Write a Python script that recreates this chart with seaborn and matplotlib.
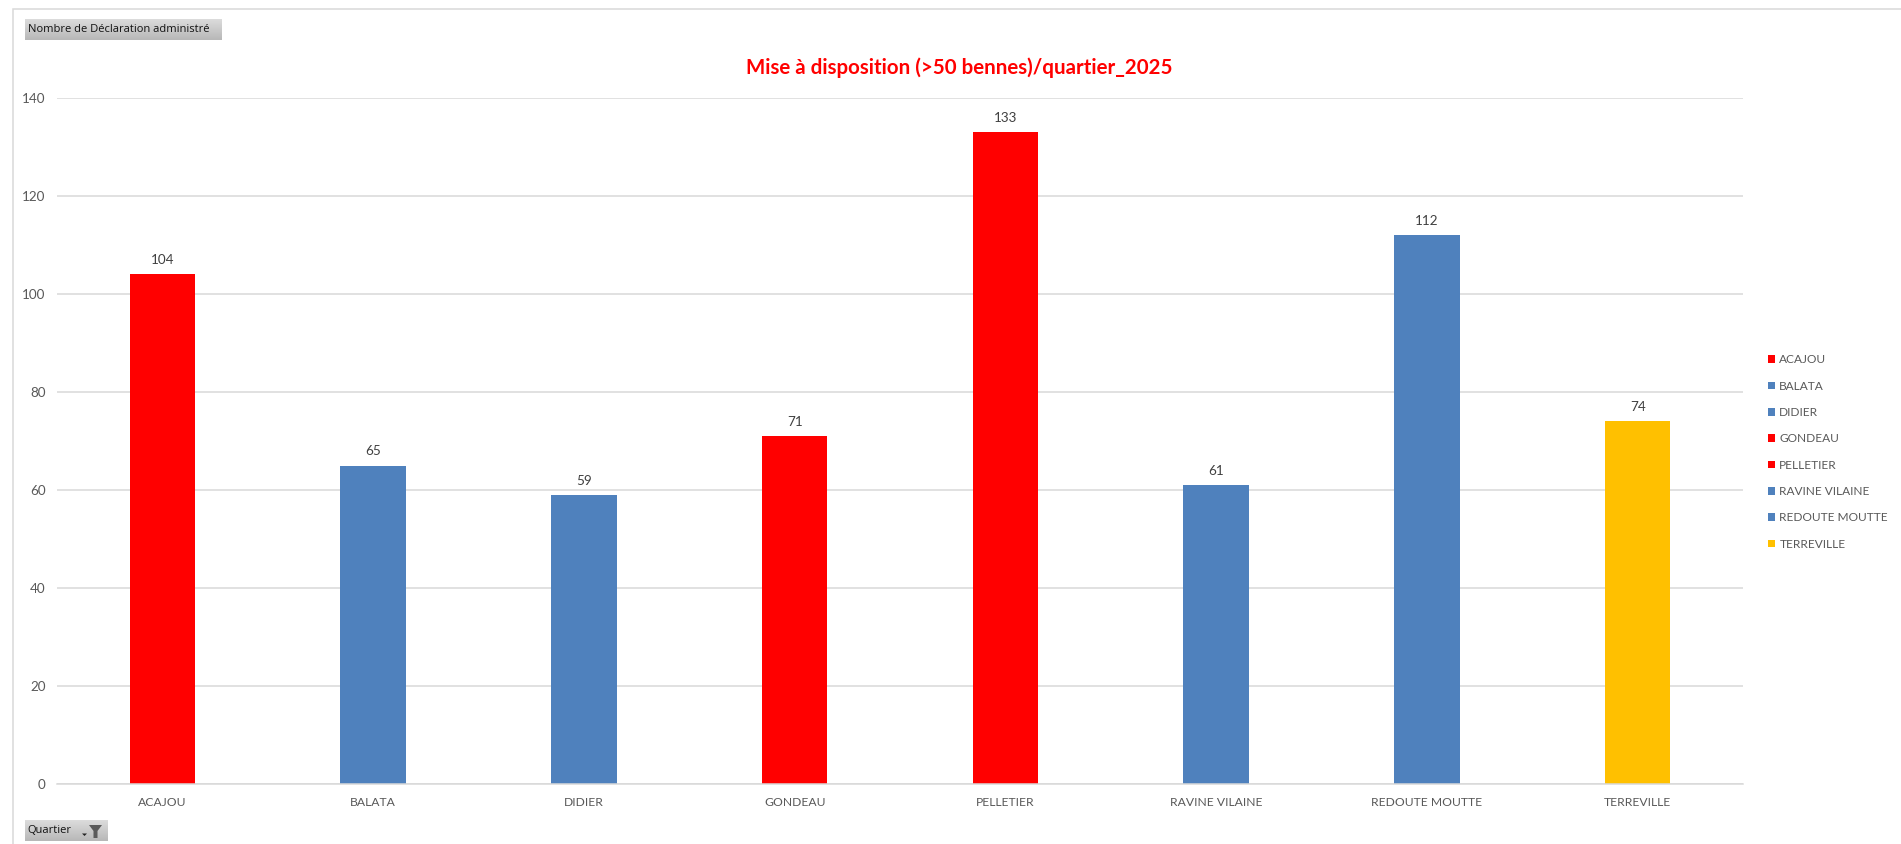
import numpy as np
import pandas as pd
import matplotlib
matplotlib.use("Agg")
import matplotlib.pyplot as plt
from matplotlib.patches import Polygon, Rectangle
import seaborn as sns

quartiers = ["ACAJOU", "BALATA", "DIDIER", "GONDEAU", "PELLETIER",
             "RAVINE VILAINE", "REDOUTE MOUTTE", "TERREVILLE"]
valeurs = [104, 65, 59, 71, 133, 61, 112, 74]
couleurs = ["#FF0000", "#4F81BD", "#4F81BD", "#FF0000", "#FF0000",
            "#4F81BD", "#4F81BD", "#FFC000"]
titre = "Mise à disposition (>50 bennes)/quartier_2025"
bouton_valeur = "Nombre de Déclaration administré"
bouton_filtre = "Quartier"

W, H = 1901, 844
sns.set_theme(style="white")
plt.rcParams["font.family"] = ["Lato", "DejaVu Sans"]

fig = plt.figure(figsize=(W / 100, H / 100), dpi=100, facecolor="white")


def px_axes(x0, y0, x1, y1, **kw):
    return fig.add_axes([x0 / W, 1 - y1 / H, (x1 - x0) / W, (y1 - y0) / H], **kw)


ax = px_axes(57, 98, 1743, 784)
df = pd.DataFrame({"Quartier": quartiers, "Valeur": valeurs})
sns.barplot(data=df, x="Quartier", y="Valeur", hue="Quartier", order=quartiers,
            hue_order=quartiers, palette=couleurs, dodge=False, width=0.31,
            saturation=1, legend=True, ax=ax, linewidth=0)

ax.set_xlim(-0.5, 7.5)
ax.set_ylim(0, 140)
ax.set_yticks(range(0, 141, 20))
ax.set_xlabel("")
ax.set_ylabel("")
ax.yaxis.grid(True, color="#D9D9D9", linewidth=1.1)
ax.xaxis.grid(False)
ax.set_axisbelow(True)
for s in ["top", "left", "right"]:
    ax.spines[s].set_visible(False)
ax.spines["bottom"].set_color("#D9D9D9")
ax.spines["bottom"].set_linewidth(1.1)
ax.tick_params(axis="x", length=0, pad=9.5, labelsize=8.7, labelcolor="#595959")
ax.tick_params(axis="y", length=0, pad=8.2, labelsize=9.7, labelcolor="#595959")
for c in ax.containers:
    ax.bar_label(c, padding=5.8, fontsize=9.7, color="#404040")

# Légende à droite
handles, labels = ax.get_legend_handles_labels()
ax.legend(handles, labels, loc="center left", bbox_to_anchor=(1768 / W, 1 - 452 / H),
          bbox_transform=fig.transFigure, frameon=False, fontsize=8.55,
          labelcolor="#595959", handlelength=0.62, handleheight=0.62,
          handletextpad=0.33, labelspacing=1.29, borderpad=0, borderaxespad=0)

# Titre
fig.text(959 / W, 1 - 68 / H, titre, color="#FF0000", fontsize=14.75,
         fontweight="bold", ha="center", va="center")

# Cadre extérieur
fig.add_artist(Rectangle((12.5 / W, -0.1), (W + 50) / W, 1.1 - 9.5 / H,
                         transform=fig.transFigure, fill=False,
                         edgecolor="#D9D9D9", linewidth=1.1))


# Boutons de champ du tableau croisé
def bouton(x0, y0, x1, y1, texte):
    b = px_axes(x0, y0, x1, y1)
    g = np.linspace(0.86, 0.72, 32).reshape(-1, 1)
    b.imshow(g, cmap="gray", vmin=0, vmax=1, aspect="auto", extent=(0, 1, 0, 1))
    b.set_axis_off()
    fig.text((x0 + 3) / W, 1 - (y0 + y1) / 2 / H, texte, color="#111111",
             fontsize=8.0, ha="left", va="center",
             family=["Open Sans", "DejaVu Sans"])


bouton(24.5, 19, 221, 40, bouton_valeur)
bouton(24.5, 820, 106.5, 841, bouton_filtre)

# Entonnoir de filtre
fig.add_artist(Polygon(np.array([[89, 825], [102, 825], [97.5, 831], [97.5, 838],
                                 [93.5, 838], [93.5, 831]]) / [W, H] * [1, -1] + [0, 1],
                       closed=True, transform=fig.transFigure,
                       facecolor="#5A5A5A", edgecolor="none"))
fig.add_artist(Polygon(np.array([[82, 833.5], [87, 833.5], [84.5, 836]]) / [W, H] * [1, -1] + [0, 1],
                       closed=True, transform=fig.transFigure,
                       facecolor="#222222", edgecolor="none"))

fig.savefig("out.png", dpi=100, facecolor="white")
